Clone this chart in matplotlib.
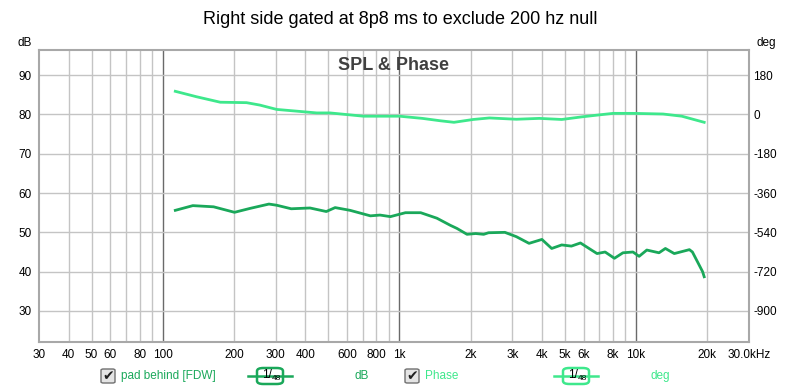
import matplotlib
matplotlib.use('Agg')
from matplotlib import pyplot as plt
from matplotlib.patches import FancyBboxPatch
from matplotlib.lines import Line2D

plt.rcParams['font.family'] = ['Liberation Sans', 'DejaVu Sans']
plt.rcParams['axes.unicode_minus'] = False

# SPL curve (Hz, dB)
spl_freq = [113, 134, 164, 201, 234, 281, 303, 349, 419, 491, 535, 619, 754, 828,
            916, 1060, 1230, 1440, 1640, 1750, 1930, 2100, 2270, 2380, 2790, 3120,
            3530, 4000, 4400, 4850, 5330, 5820, 6840, 7400, 8100, 8800, 9700, 10300,
            11100, 12500, 13300, 14500, 16800, 17300, 19100, 19400]
spl_db = [55.6, 56.8, 56.5, 55.1, 56.1, 57.2, 56.9, 56.0, 56.2, 55.3, 56.3, 55.6, 54.2, 54.4,
          54.0, 55.0, 55.0, 53.6, 51.8, 51.0, 49.5, 49.7, 49.5, 49.9, 50.0, 48.9,
          47.2, 48.2, 45.9, 46.8, 46.5, 47.3, 44.6, 45.0, 43.4, 44.8, 45.0, 43.9,
          45.5, 44.8, 45.9, 44.6, 45.6, 45.0, 40.0, 38.7]

# phase curve (Hz, deg)
ph_freq = [113, 139, 175, 226, 257, 303, 369, 447, 509, 619, 705, 1000, 1250, 1490,
           1700, 2050, 2400, 3120, 3900, 4850, 5900, 6850, 8000, 9700, 13000, 15600, 19400]
ph_deg = [106, 81, 56, 54, 43, 23, 15, 7, 7, -2, -8, -8, -18, -29,
          -36, -23, -16, -22, -18, -23, -11, -3, 5, 5, 2, -8, -36]

x_ticks = [30, 40, 50, 60, 80, 100, 200, 300, 400, 600, 800, 1000, 2000, 3000, 4000,
           5000, 6000, 8000, 10000, 20000, 30000]
x_labels = ['30', '40', '50', '60', '80', '100', '200', '300', '400', '600', '800', '1k',
            '2k', '3k', '4k', '5k', '6k', '8k', '10k', '20k', '30.0kHz']
db_ticks = [30, 40, 50, 60, 70, 80, 90]
deg_ticks = [-900, -720, -540, -360, -180, 0, 180]

spl_col = '#1aa85a'
ph_col = '#3ee88c'

fig = plt.figure(figsize=(8, 3.88), dpi=100)
ax = fig.add_axes([39 / 800, 1 - 342 / 388, 710 / 800, 292 / 388])
ax.set_xscale('log')
ax.set_xlim(30, 30000)
ax.set_ylim(22.1, 96.4)

# grid lines
for dec in [10, 100, 1000, 10000]:
    for m in range(1, 10):
        f = dec * m
        if 30 < f < 30000:
            if m == 1:
                ax.axvline(f, color='#6a6a6a', lw=1.0, zorder=1)
            else:
                ax.axvline(f, color='#c4c4c4', lw=1.0, zorder=1)
for d in db_ticks:
    ax.axhline(d, color='#c4c4c4', lw=1.0, zorder=1)

ax.set_xticks(x_ticks)
ax.set_xticklabels(x_labels)
ax.xaxis.set_minor_locator(plt.NullLocator())
ax.set_yticks(db_ticks)
ax.tick_params(axis='both', length=0, labelsize=8.5, pad=5)
ax.tick_params(axis='x', pad=5)

for s in ax.spines.values():
    s.set_color('#a8a8a8')
    s.set_linewidth(1.5)

ax.plot(spl_freq, spl_db, color=spl_col, lw=2.0, zorder=3)

ax2 = ax.twinx()
ax2.set_ylim((22.1 - 80) * 18, (96.4 - 80) * 18)
ax2.set_yticks(deg_ticks)
ax2.tick_params(axis='y', length=0, labelsize=8.5, pad=3)
for s in ax2.spines.values():
    s.set_visible(False)
ax2.plot(ph_freq, ph_deg, color=ph_col, lw=2.0, zorder=3)

fig.text(25 / 800, 1 - 43 / 388, 'dB', fontsize=8.5, ha='center', va='center')
fig.text(766 / 800, 1 - 43 / 388, 'deg', fontsize=8.5, ha='center', va='center')

fig.text(0.5, 1 - 19 / 388, 'Right side gated at 8p8 ms to exclude 200 hz null',
         fontsize=13, ha='center', va='center')
ax.text(0.499, 0.948, 'SPL & Phase', transform=ax.transAxes, fontsize=13,
        fontweight='bold', color='#404040', ha='center', va='center', zorder=4)

# legend row
def legend_item(x0, label, col, xbox, xunit, unit):
    y = 1 - 376 / 388
    fig.patches.append(FancyBboxPatch((x0 / 800, y - 7 / 388), 14 / 800, 14 / 388,
                                      boxstyle='round,pad=0,rounding_size=0.003',
                                      transform=fig.transFigure, fc='#e4e4e4',
                                      ec='#707070', lw=1.0))
    fig.text((x0 + 7) / 800, y, '\u2714', fontsize=10, ha='center', va='center',
             family='DejaVu Sans', color='#202020')
    fig.text((x0 + 20) / 800, y, label, fontsize=8.5, color=col, ha='left', va='center')
    fig.lines.append(Line2D([(xbox - 22) / 800, (xbox + 22) / 800], [y, y],
                            transform=fig.transFigure, color=col, lw=1.8))
    fig.patches.append(FancyBboxPatch(((xbox - 13) / 800, y - 8 / 388), 26 / 800, 16 / 388,
                                      boxstyle='round,pad=0,rounding_size=0.008',
                                      transform=fig.transFigure, fc='white',
                                      ec=col, lw=1.8))
    fig.text((xbox - 3) / 800, y + 1 / 388, '1/', fontsize=8.5, ha='center', va='center')
    fig.text((xbox + 6) / 800, y - 3 / 388, '48', fontsize=6, ha='center', va='center')
    fig.text(xunit / 800, y, unit, fontsize=8.5, color=col, ha='center', va='center')

legend_item(101, 'pad behind [FDW]', spl_col, 270, 362, 'dB')
legend_item(405, 'Phase', ph_col, 576, 660, 'deg')

fig.savefig('out.png', dpi=100)
